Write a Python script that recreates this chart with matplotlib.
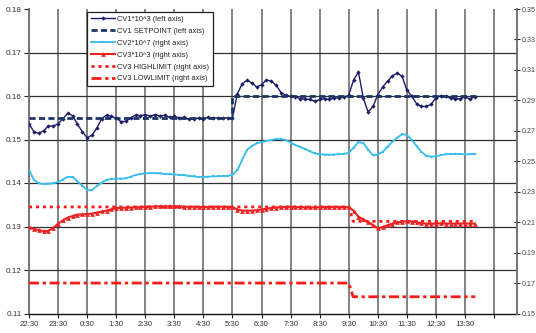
import numpy as np
import matplotlib
matplotlib.use("Agg")
import matplotlib.pyplot as plt

plt.rcParams['font.family'] = ['Liberation Sans', 'DejaVu Sans']

# ---------------- data ----------------
# samples every 10 minutes starting at 22:30 (hours since 22:30)
sample_step_h = 10 / 60

cv1 = [0.1536, 0.1518, 0.1514, 0.1520, 0.1531, 0.1531, 0.1536, 0.1548, 0.1560, 0.1555,
       0.1535, 0.1518, 0.1504, 0.1510, 0.1526, 0.1548, 0.1556, 0.1553, 0.1549, 0.1541,
       0.1542, 0.1550, 0.1556, 0.1555, 0.1557, 0.1554, 0.1557, 0.1554, 0.1556, 0.1551,
       0.1553, 0.1550, 0.1551, 0.1547, 0.1548, 0.1549, 0.1547, 0.1551, 0.1549, 0.1550,
       0.1549, 0.1550, 0.1550, 0.1605, 0.1628, 0.1636, 0.1630, 0.1621, 0.1626, 0.1637,
       0.1634, 0.1625, 0.1608, 0.1602, 0.1599, 0.1598, 0.1594, 0.1593, 0.1592, 0.1588,
       0.1592, 0.1594, 0.1592, 0.1595, 0.1596, 0.1597, 0.1602, 0.1637, 0.1655, 0.1595,
       0.1563, 0.1576, 0.1603, 0.1621, 0.1634, 0.1646, 0.1653, 0.1645, 0.1613, 0.1600,
       0.1582, 0.1576, 0.1576, 0.1581, 0.1596, 0.1601, 0.1599, 0.1595, 0.1594, 0.1593,
       0.1598, 0.1593, 0.1598]

cv2 = [0.2444, 0.2378, 0.2355, 0.2350, 0.2352, 0.2355, 0.2364, 0.2380, 0.2398, 0.2396,
       0.2367, 0.2340, 0.2312, 0.2310, 0.2338, 0.2360, 0.2378, 0.2383, 0.2384, 0.2386,
       0.2388, 0.2398, 0.2410, 0.2416, 0.2420, 0.2423, 0.2422, 0.2420, 0.2417, 0.2415,
       0.2413, 0.2411, 0.2408, 0.2404, 0.2400, 0.2397, 0.2397, 0.2399, 0.2400, 0.2402,
       0.2403, 0.2404, 0.2410, 0.2440, 0.2510, 0.2575, 0.2600, 0.2618, 0.2626, 0.2633,
       0.2640, 0.2646, 0.2645, 0.2640, 0.2622, 0.2606, 0.2594, 0.2580, 0.2565, 0.2551,
       0.2546, 0.2544, 0.2543, 0.2544, 0.2546, 0.2549, 0.2555, 0.2590, 0.2625, 0.2620,
       0.2577, 0.2538, 0.2545, 0.2562, 0.2595, 0.2628, 0.2655, 0.2677, 0.2673, 0.2640,
       0.2600, 0.2562, 0.2536, 0.2530, 0.2532, 0.2540, 0.2545, 0.2548, 0.2549, 0.2547,
       0.2545, 0.2546, 0.2549]

cv3 = [0.2068, 0.2056, 0.2048, 0.2041, 0.2043, 0.2062, 0.2090, 0.2112, 0.2130, 0.2140,
       0.2149, 0.2151, 0.2153, 0.2156, 0.2163, 0.2170, 0.2176, 0.2184, 0.2192, 0.2194,
       0.2195, 0.2196, 0.2197, 0.2199, 0.2201, 0.2202, 0.2203, 0.2204, 0.2203, 0.2204,
       0.2204, 0.2203, 0.2201, 0.2200, 0.2201, 0.2200, 0.2199, 0.2200, 0.2201, 0.2200,
       0.2201, 0.2200, 0.2200, 0.2183, 0.2176, 0.2175, 0.2176, 0.2178, 0.2183, 0.2188,
       0.2193, 0.2196, 0.2198, 0.2200, 0.2201, 0.2200, 0.2199, 0.2198, 0.2197, 0.2197,
       0.2198, 0.2199, 0.2200, 0.2200, 0.2199, 0.2200, 0.2198, 0.2175, 0.2135, 0.2118,
       0.2102, 0.2080, 0.2060, 0.2068, 0.2080, 0.2090, 0.2098, 0.2103, 0.2106, 0.2104,
       0.2099, 0.2094, 0.2090, 0.2089, 0.2091, 0.2092, 0.2091, 0.2090, 0.2091, 0.2090,
       0.2091, 0.2090, 0.2090]

# step series (hours since 22:30, value)
setpoint_t = [0.0, 7.0, 7.0, 15.4]
setpoint_v = [0.155, 0.155, 0.160, 0.160]
highlim_t = [0.0, 11.0, 11.15, 15.4]
highlim_v = [0.220, 0.220, 0.2105, 0.2105]
lowlim_t = [0.0, 11.0, 11.15, 15.35]
lowlim_v = [0.170, 0.170, 0.161, 0.161]

tick_labels = ["22:30", "23:30", "0:30", "1:30", "2:30", "3:30", "4:30", "5:30",
               "6:30", "7:30", "8:30", "9:30", "10:30", "11:30", "12:30", "13:30", ""]

left_ticks = [0.11, 0.12, 0.13, 0.14, 0.15, 0.16, 0.17, 0.18]
right_ticks = [0.15, 0.17, 0.19, 0.21, 0.23, 0.25, 0.27, 0.29, 0.31, 0.33, 0.35]

labels = ["CV1*10^3 (left axis)", "CV1 SETPOINT (left axis)", "CV2*10^7 (right axis)",
          "CV3*10^3 (right axis)", "CV3 HIGHLIMIT (right axis)", "CV3 LOWLIMIT (right axis)"]

# ---------------- plot ----------------
t = np.arange(len(cv1)) * sample_step_h

fig = plt.figure(figsize=(5.36, 3.33), dpi=100)
ax = fig.add_axes([29 / 536, 1 - 313.5 / 333, 487.5 / 536, 304.5 / 333])
ax2 = ax.twinx()

navy = '#1c1c6b'
sp_col = '#1a3565'
cyan = '#35bdee'
red = '#ee2222'
lim_red = '#ff1a1a'
txt_col = '#333333'
spine_gray = '#6a6a6a'

h1, = ax.plot(t, cv1, color=navy, lw=1.0, marker='D', ms=2.2, mew=0, zorder=3)
h2, = ax.plot(setpoint_t, setpoint_v, color=sp_col, lw=2.0, dashes=(2.2, 1.2), zorder=4)
h3, = ax2.plot(t, cv2, color=cyan, lw=1.3, marker='s', ms=1.6, mew=0, zorder=3)
h5, = ax2.plot(highlim_t, highlim_v, color=lim_red, lw=2.0, dashes=(1.1, 1.4), zorder=2)
h6, = ax2.plot(lowlim_t, lowlim_v, color=lim_red, lw=2.0, dashes=(3.6, 1.3, 1.2, 1.3), zorder=2)
h4, = ax2.plot(t, cv3, color=red, lw=1.5, marker='^', ms=3.4, mew=0, zorder=3)

ax.set_xlim(0, 16.77)
ax.set_ylim(0.11, 0.18)
ax2.set_ylim(0.15, 0.35)

ax.set_xticks(np.arange(len(tick_labels)))
ax.set_xticklabels(tick_labels)
ax.set_yticks(left_ticks)
ax.set_yticklabels([f"{v:.2f}" for v in left_ticks])
ax2.set_yticks(right_ticks)
ax2.set_yticklabels([f"{v:.2f}" for v in right_ticks])

ax.grid(axis='x', color='#7a7a7a', lw=1.3)
ax.grid(axis='y', color='#303030', lw=0.9)
ax.set_axisbelow(True)
ax.get_ygridlines()[-1].set_visible(False)
ax.get_ygridlines()[0].set_visible(False)
ax.get_xgridlines()[0].set_visible(False)

for a in (ax, ax2):
    a.spines['top'].set_visible(False)
ax.spines['right'].set_visible(False)
ax2.spines['left'].set_visible(False)
ax2.spines['bottom'].set_visible(False)
ax.spines['left'].set_color(spine_gray)
ax.spines['left'].set_linewidth(1.3)
ax.spines['bottom'].set_color('#111111')
ax.spines['bottom'].set_linewidth(1.0)
ax2.spines['right'].set_color(spine_gray)
ax2.spines['right'].set_linewidth(1.3)

ax.tick_params(axis='y', labelsize=5.9, labelcolor=txt_col, color='#222222',
               length=3.5, width=0.8, direction='out', pad=1.8)
ax.tick_params(axis='x', labelsize=5.6, labelcolor=txt_col, color='#222222',
               length=3, width=0.8, direction='out', pad=2.5)
ax2.tick_params(axis='y', labelsize=5.1, labelcolor='#444444', color='#222222',
                length=5, width=0.8, direction='inout', pad=1.5)

leg = ax2.legend([h1, h2, h3, h4, h5, h6], labels, loc='upper left',
                 bbox_to_anchor=((87 - 29) / 487.5, (313.5 - 12) / 304.5),
                 borderaxespad=0, fontsize=5.4, frameon=True, fancybox=False,
                 edgecolor='#222222', framealpha=1, handlelength=3.2,
                 handletextpad=0.3, labelspacing=0.62, borderpad=0.5)
leg.get_frame().set_linewidth(0.9)
for txt in leg.get_texts():
    txt.set_color('#222222')

fig.savefig('out.png', dpi=100)
